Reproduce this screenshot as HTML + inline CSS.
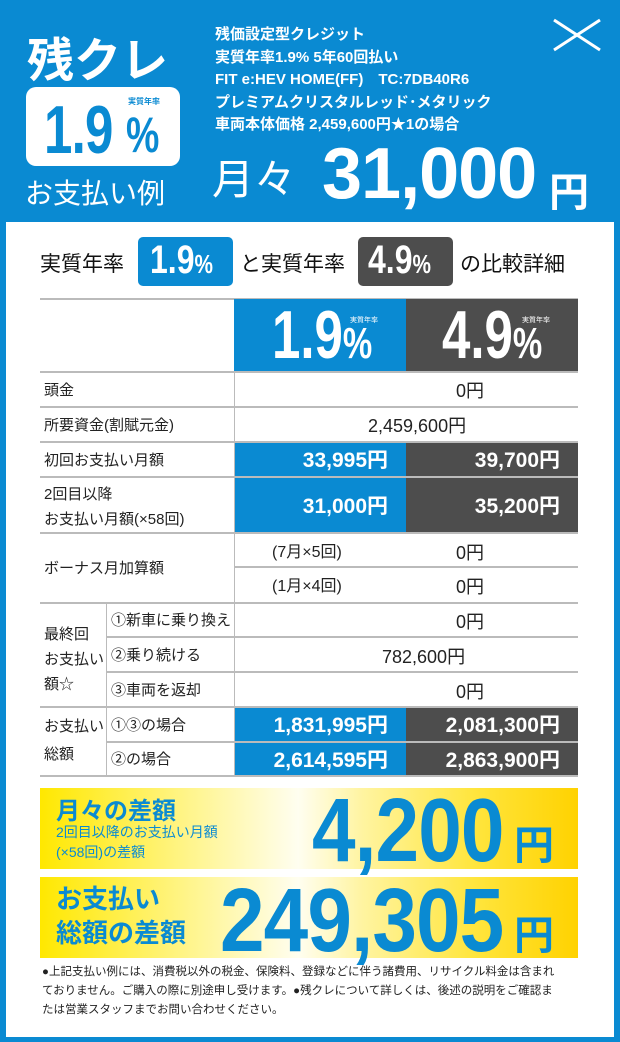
<!DOCTYPE html>
<html><head><meta charset="utf-8"><style>
*{margin:0;padding:0;box-sizing:border-box}
body{width:620px;height:1042px;background:#0a8ad2;font-family:"Liberation Sans","Noto Sans CJK JP",sans-serif;position:relative;overflow:hidden}
.a{position:absolute;white-space:nowrap}
.w{color:#fff}
.panel{position:absolute;left:6px;top:222px;width:608px;height:815px;background:#fff}
.cell{position:absolute;display:flex;align-items:center}
.hl{position:absolute;height:2px;background:#bbb}
.vl{position:absolute;width:1px;background:#bbb}
.b{background:#0a8ad2;color:#fff;font-weight:bold;justify-content:flex-end;padding-right:18px;font-size:21px}
.g{background:#4d4d4d;color:#fff;font-weight:bold;justify-content:flex-end;padding-right:18px;font-size:21px}
.lab{font-size:15px;color:#222;padding-left:4px}
.v{font-size:18px;color:#222}
.yb{position:absolute;left:40px;width:538px;background:linear-gradient(90deg,#ffe800 0%,#fff8b0 35%,#fffef0 48%,#fff4a0 60%,#ffe640 80%,#ffd200 100%)}
.yel{color:#0a8ad2;font-weight:bold}
</style></head><body>
<div class="a w" style="left:27px;top:22px;font-size:47px;font-weight:bold">残クレ</div>
<div class="a" style="left:26px;top:87px;width:154px;height:79px;background:#fff;border-radius:10px"></div>
<div class="a" style="left:44px;top:96px;font-size:68px;font-weight:bold;color:#0a8ad2;transform:scaleX(.75);transform-origin:left;line-height:68px;letter-spacing:-1px">1.9</div>
<div class="a" style="left:126px;top:110px;font-size:50px;font-weight:bold;color:#0a8ad2;transform:scaleX(.75);transform-origin:left;line-height:50px">%</div>
<div class="a" style="left:128px;top:96px;font-size:8px;font-weight:bold;color:#0a8ad2">実質年率</div>
<div class="a w" style="left:25px;top:172px;font-size:28px">お支払い例</div>
<div class="a w" style="left:215px;top:24px;font-size:15px;font-weight:bold;line-height:22.5px">残価設定型クレジット<br>実質年率1.9% 5年60回払い<br>FIT e:HEV HOME(FF)　TC:7DB40R6<br>プレミアムクリスタルレッド･メタリック<br>車両本体価格 2,459,600円★1の場合</div>
<div class="a w" style="left:212px;top:146px;font-size:42px">月々</div>
<div class="a w" style="left:322px;top:138px;font-size:72px;line-height:72px;font-weight:bold;letter-spacing:-1px">31,000</div>
<div class="a w" style="left:549px;top:160px;font-size:40px;font-weight:bold">円</div>
<svg class="a" style="left:552px;top:18px" width="50" height="34"><path d="M2 2L48 32M48 2L2 32" stroke="#fff" stroke-width="3"/></svg>
<div class="panel"></div>
<div class="a" style="left:40px;top:248px;font-size:21px;color:#111">実質年率</div>
<div class="a" style="left:138px;top:237px;width:95px;height:49px;background:#0a8ad2;border-radius:5px"></div>
<div class="a w" style="left:150px;top:238px;font-size:40px;font-weight:bold;transform:scaleX(.8);transform-origin:left">1.9<span style="font-size:26px">%</span></div>
<div class="a" style="left:240px;top:248px;font-size:21px;color:#111">と実質年率</div>
<div class="a" style="left:358px;top:237px;width:95px;height:49px;background:#4d4d4d;border-radius:5px"></div>
<div class="a w" style="left:368px;top:238px;font-size:40px;font-weight:bold;transform:scaleX(.8);transform-origin:left">4.9<span style="font-size:26px">%</span></div>
<div class="a" style="left:460px;top:248px;font-size:21px;color:#111">の比較詳細</div>

<div class="hl" style="left:40px;top:298px;width:538px"></div>
<div class="cell" style="left:234px;top:299px;width:172px;height:72px;background:#0a8ad2"></div>
<div class="cell" style="left:406px;top:299px;width:172px;height:72px;background:#4d4d4d"></div>
<div class="a w" style="left:272px;top:300px;font-size:68px;font-weight:bold;line-height:70px;transform:scaleX(.75);transform-origin:left">1.9<span style="font-size:44px">%</span></div>
<div class="a w" style="left:442px;top:300px;font-size:68px;font-weight:bold;line-height:70px;transform:scaleX(.75);transform-origin:left">4.9<span style="font-size:44px">%</span></div>
<div class="a w" style="left:350px;top:315px;font-size:7px">実質年率</div>
<div class="a w" style="left:522px;top:315px;font-size:7px">実質年率</div>

<div class="cell lab" style="left:40px;top:372px;height:34px">頭金</div>
<div class="a v" style="left:456px;top:377px">0円</div>
<div class="cell lab" style="left:40px;top:407px;height:34px">所要資金(割賦元金)</div>
<div class="a v" style="left:368px;top:412px">2,459,600円</div>
<div class="cell lab" style="left:40px;top:442px;height:34px">初回お支払い月額</div>
<div class="cell b" style="left:234px;top:442px;width:172px;height:34px">33,995円</div>
<div class="cell g" style="left:406px;top:442px;width:172px;height:34px">39,700円</div>
<div class="a lab" style="left:40px;top:482px;line-height:25px">2回目以降<br>お支払い月額(×58回)</div>
<div class="cell b" style="left:234px;top:477px;width:172px;height:55px">31,000円</div>
<div class="cell g" style="left:406px;top:477px;width:172px;height:55px">35,200円</div>
<div class="cell lab" style="left:40px;top:533px;height:69px">ボーナス月加算額</div>
<div class="a v" style="left:272px;top:538px;font-size:16px">(7月×5回)</div>
<div class="a v" style="left:456px;top:539px">0円</div>
<div class="a v" style="left:272px;top:572px;font-size:16px">(1月×4回)</div>
<div class="a v" style="left:456px;top:573px">0円</div>
<div class="a lab" style="left:40px;top:622px;line-height:25px">最終回<br>お支払い<br>額☆</div>
<div class="cell lab" style="left:107px;top:603px;height:33px">①新車に乗り換え</div>
<div class="a v" style="left:456px;top:608px">0円</div>
<div class="cell lab" style="left:107px;top:637px;height:34px">②乗り続ける</div>
<div class="a v" style="left:382px;top:643px">782,600円</div>
<div class="cell lab" style="left:107px;top:672px;height:34px">③車両を返却</div>
<div class="a v" style="left:456px;top:678px">0円</div>
<div class="a lab" style="left:40px;top:713px;line-height:28px">お支払い<br>総額</div>
<div class="cell lab" style="left:107px;top:707px;height:34px">①③の場合</div>
<div class="cell lab" style="left:107px;top:742px;height:33px">②の場合</div>
<div class="cell b" style="left:234px;top:707px;width:172px;height:34px">1,831,995円</div>
<div class="cell g" style="left:406px;top:707px;width:172px;height:34px">2,081,300円</div>
<div class="cell b" style="left:234px;top:742px;width:172px;height:34px">2,614,595円</div>
<div class="cell g" style="left:406px;top:742px;width:172px;height:34px">2,863,900円</div>

<div class="hl" style="left:40px;top:371px;width:538px"></div>
<div class="hl" style="left:40px;top:406px;width:538px"></div>
<div class="hl" style="left:40px;top:441px;width:538px"></div>
<div class="hl" style="left:40px;top:476px;width:538px"></div>
<div class="hl" style="left:40px;top:532px;width:538px"></div>
<div class="hl" style="left:234px;top:566px;width:344px"></div>
<div class="hl" style="left:40px;top:602px;width:538px"></div>
<div class="hl" style="left:106px;top:636px;width:472px"></div>
<div class="hl" style="left:106px;top:671px;width:472px"></div>
<div class="hl" style="left:40px;top:706px;width:538px"></div>
<div class="hl" style="left:106px;top:741px;width:472px"></div>
<div class="hl" style="left:40px;top:775px;width:538px"></div>
<div class="vl" style="left:234px;top:372px;height:404px"></div>
<div class="vl" style="left:106px;top:603px;height:172px"></div>

<div class="yb" style="top:788px;height:81px"></div>
<div class="a yel" style="left:56px;top:791px;font-size:24px">月々の差額</div>
<div class="a" style="left:56px;top:822px;font-size:14px;color:#0a8ad2;line-height:20px">2回目以降のお支払い月額<br>(×58回)の差額</div>
<div class="a yel" style="left:312px;top:786px;font-size:90px;line-height:90px;letter-spacing:-1px;transform:scaleX(.87);transform-origin:left">4,200</div>
<div class="a yel" style="left:514px;top:824px;font-size:40px;line-height:44px">円</div>
<div class="yb" style="top:877px;height:81px"></div>
<div class="a yel" style="left:56px;top:882px;font-size:26px;line-height:34px">お支払い<br>総額の差額</div>
<div class="a yel" style="left:220px;top:876px;font-size:90px;line-height:90px;letter-spacing:-1px;transform:scaleX(.89);transform-origin:left">249,305</div>
<div class="a yel" style="left:514px;top:914px;font-size:40px;line-height:44px">円</div>
<div class="a" style="left:42px;top:963px;font-size:11.5px;color:#222;line-height:19px">●上記支払い例には、消費税以外の税金、保険料、登録などに伴う諸費用、リサイクル料金は含まれ<br>ておりません。ご購入の際に別途申し受けます。●残クレについて詳しくは、後述の説明をご確認ま<br>たは営業スタッフまでお問い合わせください。</div>
</body></html>
